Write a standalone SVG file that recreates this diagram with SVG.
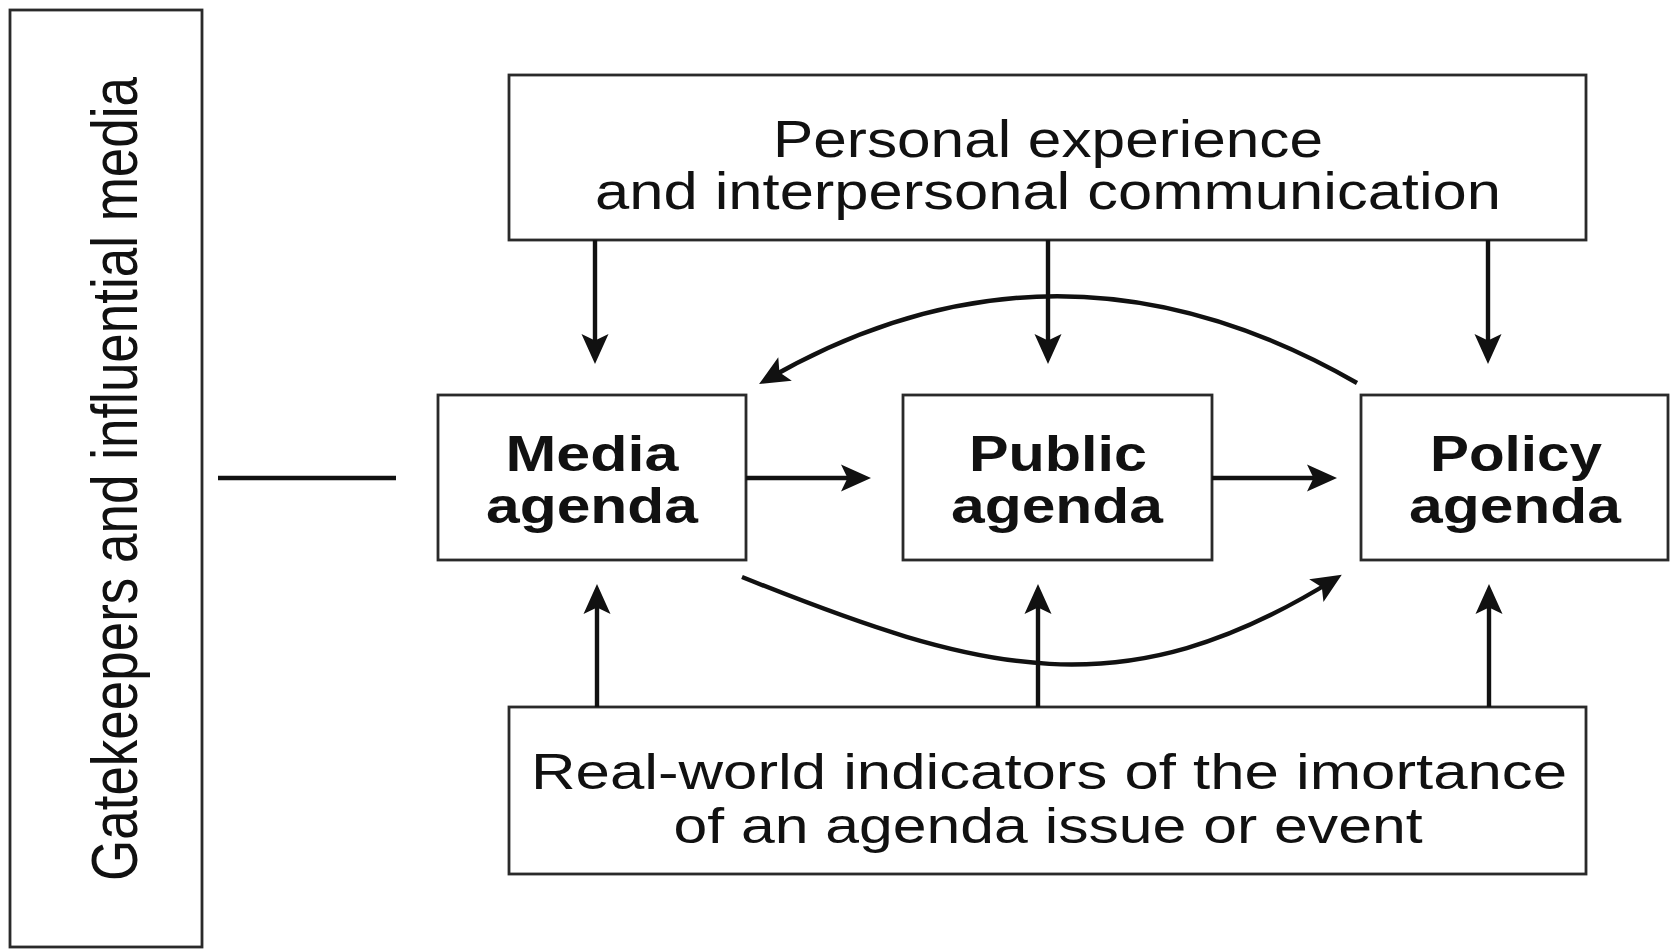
<svg xmlns="http://www.w3.org/2000/svg" width="1671" height="951" viewBox="0 0 1671 951">
<style>
.box{fill:#fff;stroke:#2a2a2a;stroke-width:2.8}
.ln{fill:none;stroke:#111;stroke-width:4.4}
.t{font-family:"Liberation Sans",Arial,Helvetica,sans-serif;fill:#111;text-anchor:middle}
.r{font-size:52px}
.r2{font-size:50px}
.b{font-size:50px;font-weight:bold}
</style>
<defs>
<marker id="ah" markerUnits="userSpaceOnUse" viewBox="0 0 30 28" markerWidth="30" markerHeight="28" refX="22" refY="14" orient="auto" overflow="visible">
<path d="M0,0.5 L30,14 L0,27.5 L6.5,14 Z" fill="#111"/>
</marker>
</defs>
<rect width="1671" height="951" fill="#fff"/>

<g id="gatekeepers">
<rect class="box" x="10" y="10" width="192" height="937"/>
<text class="t" transform="translate(137,479) rotate(-90)" style="font-size:64px" textLength="804" lengthAdjust="spacingAndGlyphs">Gatekeepers and influential media</text>
</g>

<g id="personal">
<rect class="box" x="509" y="75" width="1077" height="165"/>
<text class="t r"><tspan x="1048" y="157" textLength="550" lengthAdjust="spacingAndGlyphs">Personal experience</tspan><tspan x="1048" y="209" textLength="906" lengthAdjust="spacingAndGlyphs">and interpersonal communication</tspan></text>
</g>

<g id="media">
<rect class="box" x="438" y="395" width="308" height="165"/>
<text class="t b"><tspan x="592" y="471" textLength="173" lengthAdjust="spacingAndGlyphs">Media</tspan><tspan x="592" y="523" textLength="212" lengthAdjust="spacingAndGlyphs">agenda</tspan></text>
</g>

<g id="public">
<rect class="box" x="903" y="395" width="309" height="165"/>
<text class="t b"><tspan x="1058" y="471" textLength="178" lengthAdjust="spacingAndGlyphs">Public</tspan><tspan x="1057" y="523" textLength="212" lengthAdjust="spacingAndGlyphs">agenda</tspan></text>
</g>

<g id="policy">
<rect class="box" x="1361" y="395" width="307" height="165"/>
<text class="t b"><tspan x="1516" y="471" textLength="172" lengthAdjust="spacingAndGlyphs">Policy</tspan><tspan x="1515" y="523" textLength="212" lengthAdjust="spacingAndGlyphs">agenda</tspan></text>
</g>

<g id="realworld">
<rect class="box" x="509" y="707" width="1077" height="167"/>
<text class="t r2"><tspan x="1049" y="789" textLength="1036" lengthAdjust="spacingAndGlyphs">Real-world indicators of the imortance</tspan><tspan x="1048" y="843" textLength="749" lengthAdjust="spacingAndGlyphs">of an agenda issue or event</tspan></text>
</g>

<g id="connectors">
<line class="ln" x1="218" y1="478" x2="396" y2="478"/>
<line class="ln" x1="595" y1="240" x2="595" y2="356" marker-end="url(#ah)"/>
<line class="ln" x1="1048" y1="240" x2="1048" y2="356" marker-end="url(#ah)"/>
<line class="ln" x1="1488" y1="240" x2="1488" y2="356" marker-end="url(#ah)"/>
<line class="ln" x1="597" y1="707" x2="597" y2="592" marker-end="url(#ah)"/>
<line class="ln" x1="1038" y1="707" x2="1038" y2="592" marker-end="url(#ah)"/>
<line class="ln" x1="1489" y1="707" x2="1489" y2="592" marker-end="url(#ah)"/>
<line class="ln" x1="746" y1="478" x2="863" y2="478" marker-end="url(#ah)"/>
<line class="ln" x1="1212" y1="478" x2="1329" y2="478" marker-end="url(#ah)"/>
<path class="ln" d="M1357,383 Q1058,211 766,380" marker-end="url(#ah)"/>
<path class="ln" d="M742,577 C983,674 1123,711 1335,579" marker-end="url(#ah)"/>
</g>
</svg>
